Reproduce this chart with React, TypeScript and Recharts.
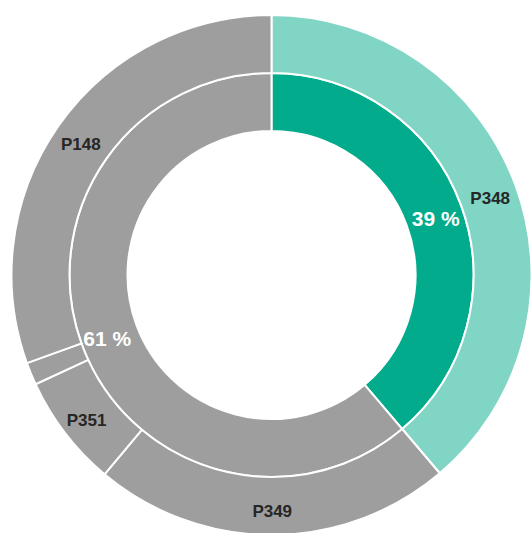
import { PieChart, Pie, Cell } from "recharts";

// inner ring: share in percent
const innerNames = ["P348", "Rest"];
const innerValues = [38.8, 61.2];
const innerLabels = ["39 %", "61 %"];

// outer ring: parts in percent
const outerNames = ["P348", "P349", "P351", "Other", "P148"];
const outerValues = [38.8, 22.3, 7.0, 1.4, 30.5];
const outerLabels = ["P348", "P349", "P351", "", "P148"];

const INNER_COLORS = ["#02ab8b", "#9e9e9e"];
const OUTER_COLORS = ["#80d5c5", "#9e9e9e", "#9e9e9e", "#9e9e9e", "#9e9e9e"];

const RAD = Math.PI / 180;
const FONT = "'Liberation Sans', Arial, sans-serif";

const innerData = innerNames.map((name, i) => ({ name, value: innerValues[i], label: innerLabels[i] }));
const outerData = outerNames.map((name, i) => ({ name, value: outerValues[i], label: outerLabels[i] }));

function makeLabel(labels: string[], fill: string, size: number) {
  return (props: any) => {
    const { cx, cy, midAngle, innerRadius, outerRadius, index } = props;
    const text = labels[index];
    if (!text) return null;
    const r = (innerRadius + outerRadius) / 2 + 2;
    const x = cx + r * Math.cos(-midAngle * RAD);
    const y = cy + r * Math.sin(-midAngle * RAD) + 3.5;
    return (
      <text x={x} y={y} fill={fill} fontSize={size} fontWeight="bold" fontFamily={FONT}
        textAnchor="middle" dominantBaseline="central">
        {text}
      </text>
    );
  };
}

export default function App() {
  return (
    <div style={{ position: "absolute", left: 0, top: 0, width: 531, height: 533, background: "#fff" }}>
      <PieChart width={531} height={533} margin={{ top: 0, right: 0, bottom: 0, left: 0 }}>
        <Pie data={innerData} dataKey="value" cx={271.5} cy={275} innerRadius={144} outerRadius={202}
          startAngle={90} endAngle={-270} stroke="#ffffff" strokeWidth={2}
          label={makeLabel(innerLabels, "#ffffff", 21)} labelLine={false} isAnimationActive={false}>
          {innerData.map((e, i) => <Cell key={e.name} fill={INNER_COLORS[i]} />)}
        </Pie>
        <Pie data={outerData} dataKey="value" cx={271.5} cy={275} innerRadius={202} outerRadius={260}
          startAngle={90} endAngle={-270} stroke="#ffffff" strokeWidth={2}
          label={makeLabel(outerLabels, "#262626", 17)} labelLine={false} isAnimationActive={false}>
          {outerData.map((e, i) => <Cell key={e.name} fill={OUTER_COLORS[i]} />)}
        </Pie>
      </PieChart>
    </div>
  );
}
